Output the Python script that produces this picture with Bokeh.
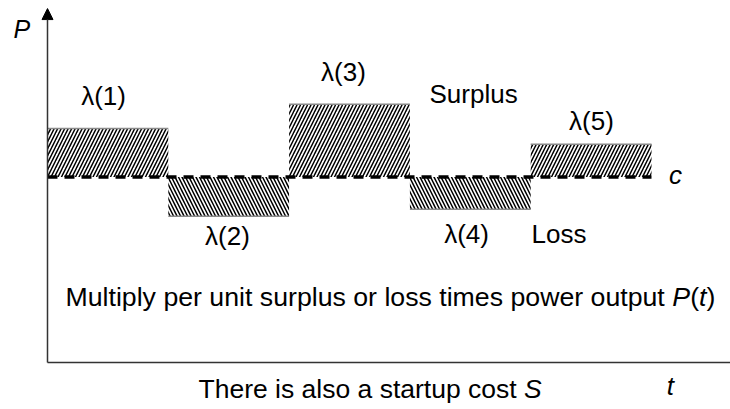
from bokeh.plotting import figure
from bokeh.models import Range1d, ColumnDataSource, Arrow, NormalHead
from bokeh.core.properties import value
from bokeh.embed import file_html
from bokeh.resources import INLINE

# ---- data ----
periods = [0, 1, 2, 3, 4]                 # start of each period (width 1)
power = [6.31, 3.94, 6.96, 4.13, 5.88]    # P during each period
c_level = 5.0                             # marginal cost level c
period_labels = ["λ(1)", "λ(2)", "λ(3)", "λ(4)", "λ(5)"]
label_x = [0.464, 1.49, 2.45, 3.469, 4.503]
label_y = [6.94, 3.154, 7.601, 3.234, 6.267]
t_end = 5.7

FONT = value("Liberation Sans")
DY = -9  # screen-pixel shift applied to all texts

p = figure(width=730, height=409, x_range=Range1d(-0.3891, 5.654),
           y_range=Range1d(-1.2668, 9.7574), min_border=0,
           toolbar_location=None, output_backend="svg",
           x_axis_location=None, y_axis_location=None)
p.grid.visible = False
p.outline_line_color = None
p.background_fill_color = "white"

left = periods
right = [x + 1 for x in periods]
bottom = [min(v, c_level) for v in power]
top = [max(v, c_level) for v in power]
hatch = ["/" if v > c_level else "\\" for v in power]
src = ColumnDataSource(dict(left=left, right=right, bottom=bottom, top=top, hatch=hatch))
p.quad(left="left", right="right", bottom="bottom", top="top", source=src,
       fill_color="white", line_color=None, hatch_pattern="hatch",
       hatch_color="black", hatch_scale=7, hatch_weight=1.5)

# edges (gray) at the outer side of each block
edge_y = [v for v in power]
p.segment(x0=left, x1=right, y0=edge_y, y1=edge_y, line_color="#8a8a8a", line_width=1.5)

# dashed c line
p.line(x=[periods[0], right[-1]], y=[c_level, c_level], line_color="black",
       line_width=3.5, line_dash="10 7")

# axes
p.segment(x0=[0], y0=[0], x1=[t_end], y1=[0], line_color="#333333", line_width=1.5)
p.add_layout(Arrow(end=NormalHead(size=11, fill_color="black", line_color="black"),
                   x_start=0, y_start=0, x_end=0, y_end=9.54,
                   line_color="#333333", line_width=1.5))


def txt(x, y, s, size="26px", style="normal", align="left", xoff=0):
    p.text(x=x, y=y, text=s, text_font=FONT, text_font_size=size,
           text_font_style=style, text_align=align, text_baseline="alphabetic",
           x_offset=xoff, y_offset=DY, text_color="black")


# labels
txt(label_x, label_y, period_labels, align="center")
txt([3.162], [7.008], ["Surplus"])
txt([4.007], [3.234], ["Loss"])
txt([5.199], [4.798], ["c"], style="italic", align="center")
txt([-0.281], [8.76], ["P"], size="25px", style="italic")
txt([5.157], [-0.889], ["t"], style="italic", align="center")

F = 26.7
mx, my = 0.149, 1.536
txt([mx], [my], ["Multiply per unit surplus or loss times power output "], size=f"{F}px")
offs = [22.729, 23.396, 23.729, 24.007]
pieces = ["P", "(", "t", ")"]
styles = ["italic", "normal", "italic", "normal"]
for o, s, st in zip(offs, pieces, styles):
    txt([mx], [my], [s], size=f"{F}px", style=st, xoff=o * F)

F2 = 26.5
sx, sy = 1.25, -0.970
txt([sx], [sy], ["There is also a startup cost "], size=f"{F2}px")
txt([sx], [sy], ["S"], size=f"{F2}px", style="italic", xoff=12.283 * F2)

open("out.html", "w").write(file_html(p, INLINE))
